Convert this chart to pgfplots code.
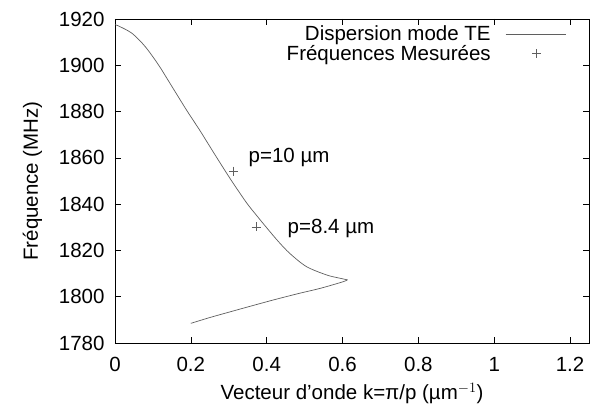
\documentclass[border=0pt]{standalone}
\usepackage{pgfplots}
\pgfplotsset{compat=1.18}
\usepackage{fontspec}
\setmainfont{Liberation Sans}
\newcommand{\fs}{\fontsize{20.5bp}{24bp}\selectfont}
\definecolor{curve}{RGB}{95,95,95}
\pgfplotsset{
  linelegend/.style={legend image code/.code={\path[draw=none,fill=none] (0bp,0cm) -- (73bp,0cm); \draw[##1] (13bp,0cm) -- (73bp,0cm);}},
  marklegend/.style={legend image code/.code={\path[draw=none,fill=none] (0bp,0cm) -- (73bp,0cm); \draw[##1] plot coordinates {(44bp,0cm)};}},
}
\begin{document}
\begin{tikzpicture}
\begin{axis}[
  scale only axis,
  width=474bp, height=324bp,
  xmin=0, xmax=1.25, ymin=1780, ymax=1920,
  xtick={0,0.2,0.4,0.6,0.8,1,1.2},
  ytick={1780,1800,1820,1840,1860,1880,1900,1920},
  /pgf/number format/assume math mode=true,
  /pgf/number format/1000 sep={},
  tick align=inside,
  major tick length=6bp,
  axis line style={black, line width=0.8bp},
  tick style={black, line width=0.6bp},
  tick label style={font=\fs},
  label style={font=\fs},
  yticklabel style={xshift=-7bp},
  xticklabel style={yshift=-11bp},
  xlabel={Vecteur d’onde k=π/p (µm$^{-1}$)},
  ylabel={Fréquence (MHz)},
  xlabel style={yshift=-4bp},
  ylabel style={yshift=10bp},
  legend plot pos=right,
  legend cell align=right,
  legend style={draw=none, fill=none, font=\fs, at={(rel axis cs:0.952,0.985)}, anchor=north east,
    row sep=-1bp, inner sep=0pt},
]
\addplot[curve, line width=0.7bp, no marks, smooth, linelegend] coordinates {
(0,1917.5) (0.008,1917.1) (0.045,1913.8) (0.08,1908) (0.115,1900.1) (0.145,1892.2)
(0.19,1880.3) (0.224,1871.8) (0.26,1862.3) (0.303,1851.2) (0.346,1840.8) (0.372,1835.4)
(0.399,1830) (0.43,1824) (0.461,1818.7) (0.505,1813) (0.558,1809.4) (0.59,1808.1)
(0.613,1807.3)
};
\addlegendentry{Dispersion mode TE}
\addplot[curve, line width=0.7bp, no marks, smooth, forget plot] coordinates {
(0.613,1807.3) (0.6,1806.4) (0.541,1803.6) (0.487,1801.5) (0.42,1798.7)
(0.355,1795.8) (0.3,1793.3) (0.25,1791) (0.2,1788.5)
};
\addplot[curve, only marks, mark=+, mark size=4.5bp, mark options={line width=0.6bp}, marklegend] coordinates {
(0.313,1854.3) (0.372,1830.2)
};
\addlegendentry{Fréquences Mesurées}
\node[anchor=west, font=\fs, inner sep=0pt] at (axis cs:0.352,1860) {p=10 µm};
\node[anchor=west, font=\fs, inner sep=0pt] at (axis cs:0.455,1829.7) {p=8.4 µm};
\end{axis}
\pgfresetboundingbox
\path (current axis.south west) ++(-115bp,-62bp) rectangle ++(590bp,405bp);
\end{tikzpicture}
\end{document}
